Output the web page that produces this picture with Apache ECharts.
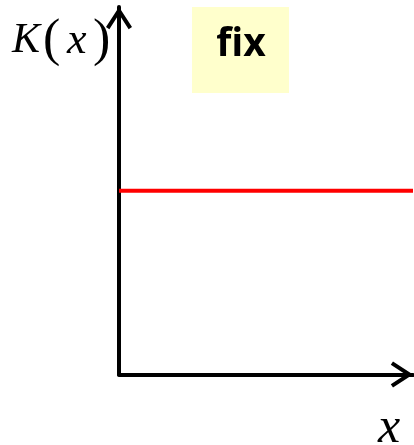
<!DOCTYPE html>
<html>
<head>
<meta charset="utf-8">
<script src="https://cdn.jsdelivr.net/npm/echarts@6/dist/echarts.min.js"></script>
<style>html,body{margin:0;padding:0;background:#fff;}#c{width:414px;height:445px;}</style>
</head>
<body>
<div id="c"></div>
<script>
// Data
const xRange = [0, 10];
const yRange = [0, 1];
const kLevelX = [0, 10];       // constant K(x) spans whole domain
const kLevelY = [0.5, 0.5];    // fixed value
const yLabelParts = ['K', '(', 'x', ')'];
const xLabel = 'x';
const boxLabel = 'fix';

const chevron = 'path://M13,0 L26,20 L22.65,22.2 L13,7.35 L3.35,22.2 L0,20 Z';

const chart = echarts.init(document.getElementById('c'), null, {renderer: 'canvas'});
const axisLineCommon = {
  show: true,
  symbol: ['none', chevron],
  symbolSize: [26, 22.2],
  symbolOffset: [0, -11.1],
  lineStyle: {color: '#000', width: 4}
};
chart.setOption({
  animation: false,
  backgroundColor: '#fff',
  grid: {left: 119, right: 1, top: 7, bottom: 70.5, containLabel: false},
  xAxis: {
    type: 'value', min: xRange[0], max: xRange[1],
    axisLine: axisLineCommon,
    axisTick: {show: false}, axisLabel: {show: false}, splitLine: {show: false}
  },
  yAxis: {
    type: 'value', min: yRange[0], max: yRange[1],
    axisLine: axisLineCommon,
    axisTick: {show: false}, axisLabel: {show: false}, splitLine: {show: false}
  },
  series: [{
    type: 'line',
    data: kLevelX.map((x, i) => [x, kLevelY[i]]),
    showSymbol: false,
    lineStyle: {color: '#ff0000', width: 4},
    z: 1
  }],
  graphic: [
    {type: 'rect', shape: {x: 192, y: 7, width: 97, height: 86}, style: {fill: '#ffffcc'}},
    {type: 'text', x: 241, y: 45, style: {text: boxLabel, font: 'bold 39px "Open Sans", sans-serif', fill: '#000', align: 'center', verticalAlign: 'middle'}},
    {type: 'text', x: 12, y: 41, style: {text: yLabelParts[0], font: 'italic 42px "Liberation Serif", serif', fill: '#000', align: 'left', verticalAlign: 'middle'}},
    {type: 'text', x: 43, y: 41, style: {text: yLabelParts[1], font: '52px "Liberation Serif", serif', fill: '#000', align: 'left', verticalAlign: 'middle'}},
    {type: 'text', x: 67, y: 41, style: {text: yLabelParts[2], font: 'italic 44px "Liberation Serif", serif', fill: '#000', align: 'left', verticalAlign: 'middle'}},
    {type: 'text', x: 93, y: 41, style: {text: yLabelParts[3], font: '52px "Liberation Serif", serif', fill: '#000', align: 'left', verticalAlign: 'middle'}},
    {type: 'text', x: 378, y: 429, style: {text: xLabel, font: 'italic 50px "Liberation Serif", serif', fill: '#000', align: 'left', verticalAlign: 'middle'}}
  ]
});
</script>
</body>
</html>
